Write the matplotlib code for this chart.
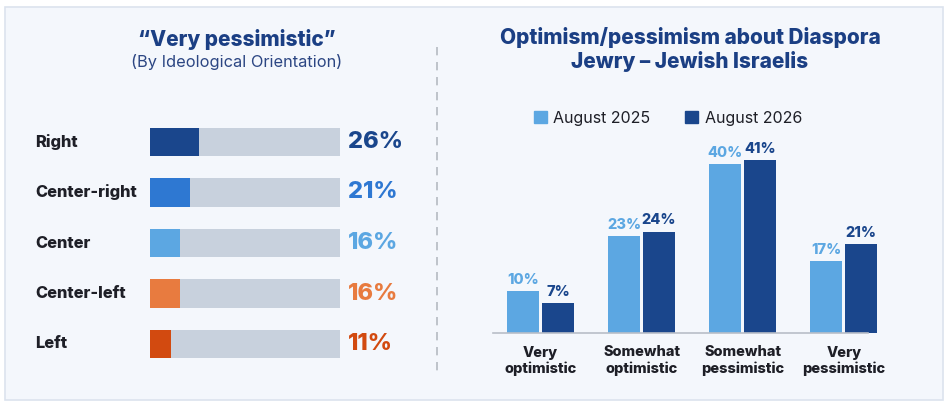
import matplotlib.pyplot as plt
from matplotlib.patches import Rectangle, Patch
from matplotlib.lines import Line2D

plt.rcParams['font.family'] = ['Inter', 'DejaVu Sans']

# left chart: "very pessimistic" by ideology
groups = ["Right", "Center-right", "Center", "Center-left", "Left"]
group_values = [26, 21, 16, 16, 11]
group_colors = ["#1A468C", "#2E78D2", "#5CA7E2", "#E87B3F", "#D24A10"]

# right chart: optimism/pessimism
categories = ["Very\noptimistic", "Somewhat\noptimistic", "Somewhat\npessimistic", "Very\npessimistic"]
aug_2025 = [10, 23, 40, 17]
aug_2026 = [7, 24, 41, 21]

W, H = 953, 416
NAVY = "#1B3F84"
TEXT = "#1E1F27"


def fx(x):
    return x / W


def fy(y):
    return 1 - y / H


def axes_px(left, top, right, bottom):
    return fig.add_axes([fx(left), fy(bottom), (right - left) / W, (bottom - top) / H])


fig = plt.figure(figsize=(W / 100, H / 100), dpi=100)
fig.patch.set_facecolor("white")

# panel background
fig.patches.append(Rectangle((fx(5), fy(400)), (943 - 5) / W, (400 - 7) / H,
                             transform=fig.transFigure, facecolor="#F4F7FC",
                             edgecolor="#DCE3EE", linewidth=1.2, zorder=-10))
# dashed divider
fig.lines.append(Line2D([fx(437), fx(437)], [fy(47), fy(377)], transform=fig.transFigure,
                        color="#B5BAC2", linestyle=(0, (5, 4)), linewidth=1.2, zorder=-5))

# ---- left chart ----
fig.text(fx(237), fy(40), "\u201cVery pessimistic\u201d", ha="center", va="center",
         fontsize=15, fontweight=800, color=NAVY)
fig.text(fx(237), fy(62), "(By Ideological Orientation)", ha="center", va="center",
         fontsize=11.8, color="#2C4683")

axl = axes_px(150, 116.75, 340, 369.25)
axl.set_facecolor("none")
rows = list(range(len(groups)))
axl.barh(rows, [100] * len(groups), height=0.57, color="#C8D1DD")
axl.barh(rows, group_values, height=0.57, color=group_colors)
axl.set_xlim(0, 100)
axl.set_ylim(4.5, -0.5)
axl.axis("off")
for i, (g, v, c) in enumerate(zip(groups, group_values, group_colors)):
    axl.text(-115 / 190 * 100, i, g, ha="left", va="center", fontsize=11.8,
             fontweight=800, color=TEXT)
    axl.text(104, i, f"{v}%", ha="left", va="center", fontsize=17,
             fontweight=800, color=c)

# ---- right chart ----
fig.text(fx(690), fy(37), "Optimism/pessimism about Diaspora", ha="center", va="center",
         fontsize=15, fontweight=800, color=NAVY)
fig.text(fx(690), fy(62), "Jewry \u2013 Jewish Israelis", ha="center", va="center",
         fontsize=15, fontweight=800, color=NAVY)

LIGHT = "#5CA7E2"
DARK = "#1A468C"
axr = axes_px(493, 140, 868, 333)
xs = list(range(len(categories)))
off = 0.173
w = 0.317
axr.bar([x - off for x in xs], aug_2025, width=w, color=LIGHT, clip_on=False)
axr.bar([x + off for x in xs], aug_2026, width=w, color=DARK, clip_on=False)
axr.set_xlim(-0.47, 3.24)
axr.set_ylim(0, 45.7)
for s in ["top", "right", "left"]:
    axr.spines[s].set_visible(False)
axr.spines["bottom"].set_color("#B8BEC8")
axr.spines["bottom"].set_linewidth(1.2)
axr.set_yticks([])
axr.set_xticks(xs)
axr.set_xticklabels(categories, fontsize=10.5, fontweight=800, color=TEXT, linespacing=1.15)
axr.tick_params(axis="x", length=0, pad=9)
axr.set_facecolor("none")
for x, v in zip(xs, aug_2025):
    axr.annotate(f"{v}%", (x - off, v), xytext=(0, 3), textcoords="offset points",
                 ha="center", va="bottom", fontsize=10.5, fontweight=800, color=LIGHT)
for x, v in zip(xs, aug_2026):
    axr.annotate(f"{v}%", (x + off, v), xytext=(0, 3), textcoords="offset points",
                 ha="center", va="bottom", fontsize=10.5, fontweight=800, color=DARK)

handles = [Patch(color=LIGHT, label="August 2025"), Patch(color=DARK, label="August 2026")]
fig.legend(handles=handles, loc="center", bbox_to_anchor=(fx(668), fy(118)), ncol=2,
           frameon=False, fontsize=11.5, handlelength=0.8, handleheight=0.8,
           handletextpad=0.4, columnspacing=2.2, labelcolor=TEXT)

fig.savefig("out.png", dpi=100)
